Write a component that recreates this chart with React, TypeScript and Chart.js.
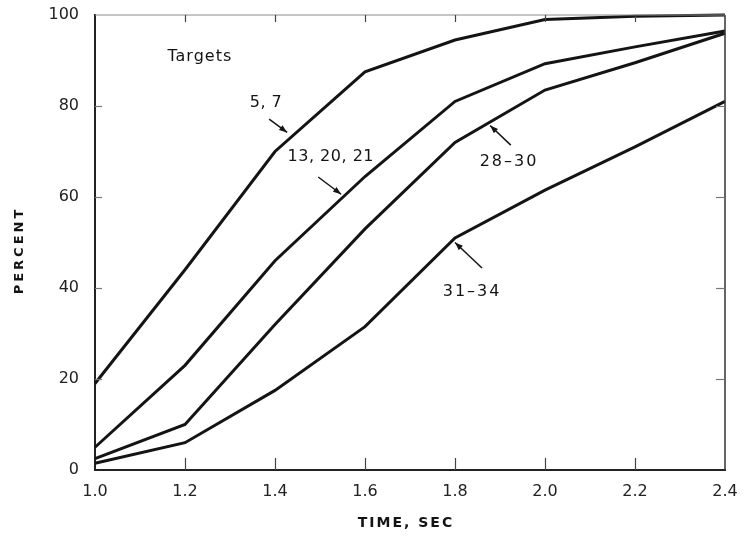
import React, { useEffect, useRef } from "react";
import { Chart, registerables } from "chart.js";

Chart.register(...registerables);

// ---- data ----
const timeSec = [1.0, 1.2, 1.4, 1.6, 1.8, 2.0, 2.2, 2.4];
const targets5_7 = [19, 44, 70, 87.5, 94.5, 99, 99.7, 100];
const targets13_20_21 = [5, 23, 46, 64.5, 81, 89.3, 93, 96.5];
const targets28_30 = [2.5, 10, 32, 53, 72, 83.5, 89.5, 96];
const targets31_34 = [1.5, 6, 17.5, 31.5, 51, 61.5, 71, 81];

const xTickValues = [1.0, 1.2, 1.4, 1.6, 1.8, 2.0, 2.2, 2.4];
const yTickValues = [0, 20, 40, 60, 80, 100];

const seriesNames = ["5, 7", "13, 20, 21", "28–30", "31–34"];
const headerText = "Targets";
const xTitle = "TIME, SEC";
const yTitle = "PERCENT";

// annotation anchors in data units: text centre, arrow tail, arrow head
const labelSpots = [
  { text: seriesNames[0], tx: 1.38, ty: 80.7, ax1: 1.387, ay1: 77.1, ax2: 1.427, ay2: 74.2 },
  { text: seriesNames[1], tx: 1.524, ty: 68.8, ax1: 1.496, ay1: 64.4, ax2: 1.547, ay2: 60.6 },
  { text: seriesNames[2], tx: 1.92, ty: 67.7, ax1: 1.924, ay1: 71.4, ax2: 1.878, ay2: 75.7 },
  { text: seriesNames[3], tx: 1.838, ty: 39.1, ax1: 1.86, ay1: 44.4, ax2: 1.8, ay2: 50.0 },
];
const headerSpot = { tx: 1.233, ty: 90.8 };

const INK = "#141414";
const FONT = "'DejaVu Sans', 'Liberation Sans', sans-serif";

const framePlugin = {
  id: "frameAndNotes",
  afterDraw(chart: any) {
    const { ctx, chartArea: a, scales } = chart;
    const x = scales.x;
    const y = scales.y;
    const line = (x1: number, y1: number, x2: number, y2: number) => {
      ctx.beginPath();
      ctx.moveTo(x1, y1);
      ctx.lineTo(x2, y2);
      ctx.stroke();
    };
    ctx.save();
    // frame
    ctx.strokeStyle = "#333";
    ctx.lineWidth = 1.5;
    line(a.right, a.top, a.right, a.bottom);
    ctx.strokeStyle = "#8a8a8a";
    ctx.lineWidth = 1;
    line(a.left, a.top, a.right, a.top);

    // inward ticks
    ctx.strokeStyle = "#444";
    ctx.lineWidth = 1.2;
    xTickValues.slice(1, -1).forEach((v) => {
      const px = Math.round(x.getPixelForValue(v)) + 0.5;
      line(px, a.bottom, px, a.bottom - 12);
      line(px, a.top, px, a.top + 7);
    });
    ctx.strokeStyle = "#777";
    yTickValues.slice(1, -1).forEach((v) => {
      const py = Math.round(y.getPixelForValue(v)) + 0.5;
      line(a.left, py, a.left + 7, py);
      line(a.right, py, a.right - 9, py);
    });

    // annotations
    ctx.fillStyle = INK;
    ctx.strokeStyle = INK;
    ctx.textAlign = "center";
    ctx.textBaseline = "middle";
    ctx.font = `16px ${FONT}`;
    (ctx as any).letterSpacing = "1px";
    ctx.fillText(headerText, x.getPixelForValue(headerSpot.tx), y.getPixelForValue(headerSpot.ty));
    labelSpots.forEach((s) => {
      (ctx as any).letterSpacing = s.text.includes("–") ? "2px" : "0.5px";
      ctx.fillText(s.text, x.getPixelForValue(s.tx), y.getPixelForValue(s.ty));
      const x1 = x.getPixelForValue(s.ax1);
      const y1 = y.getPixelForValue(s.ay1);
      const x2 = x.getPixelForValue(s.ax2);
      const y2 = y.getPixelForValue(s.ay2);
      ctx.lineWidth = 1.5;
      line(x1, y1, x2, y2);
      const ang = Math.atan2(y2 - y1, x2 - x1);
      const L = 8;
      const W = 3;
      ctx.beginPath();
      ctx.moveTo(x2, y2);
      ctx.lineTo(x2 - L * Math.cos(ang) + W * Math.sin(ang), y2 - L * Math.sin(ang) - W * Math.cos(ang));
      ctx.lineTo(x2 - L * Math.cos(ang) - W * Math.sin(ang), y2 - L * Math.sin(ang) + W * Math.cos(ang));
      ctx.closePath();
      ctx.fill();
    });

    // axis titles
    ctx.font = `bold 14px ${FONT}`;
    (ctx as any).letterSpacing = "2px";
    ctx.fillText(xTitle, (a.left + a.right) / 2 - 4, a.bottom + 53);
    ctx.save();
    ctx.translate(20, (a.top + a.bottom) / 2 + 8);
    ctx.rotate(-Math.PI / 2);
    ctx.font = `bold 13px ${FONT}`;
    (ctx as any).letterSpacing = "3px";
    ctx.fillText(yTitle, 0, 0);
    ctx.restore();
    (ctx as any).letterSpacing = "0px";
    ctx.restore();
  },
};

export default function App() {
  const ref = useRef<HTMLCanvasElement>(null);
  useEffect(() => {
    const mk = (data: number[], label: string) => ({
      label,
      data: timeSec.map((t, i) => ({ x: t, y: data[i] })),
      borderColor: INK,
      borderWidth: 3,
      pointRadius: 0,
      tension: 0,
      fill: false,
      clip: 4,
    });
    const chart = new Chart(ref.current!, {
      type: "line",
      data: {
        datasets: [
          mk(targets5_7, seriesNames[0]),
          mk(targets13_20_21, seriesNames[1]),
          mk(targets28_30, seriesNames[2]),
          mk(targets31_34, seriesNames[3]),
        ],
      },
      options: {
        animation: false,
        responsive: false,
        devicePixelRatio: 1,
        layout: { padding: { top: 15, right: 26, left: 0, bottom: 0 } },
        plugins: { legend: { display: false }, tooltip: { enabled: false } },
        scales: {
          x: {
            type: "linear",
            min: 1.0,
            max: 2.4,
            afterBuildTicks: (s: any) => {
              s.ticks = xTickValues.map((v) => ({ value: v }));
            },
            afterFit: (s: any) => {
              s.height = 68;
              s.paddingLeft = 0;
              s.paddingRight = 0;
            },
            grid: { drawOnChartArea: false, drawTicks: false },
            border: { display: true, color: "#222", width: 2 },
            ticks: {
              padding: 12,
              color: "#222",
              font: { family: FONT, size: 16 },
              maxRotation: 0,
              autoSkip: false,
              callback: (v: any) => Number(v).toFixed(1),
            },
          },
          y: {
            type: "linear",
            min: 0,
            max: 100,
            afterBuildTicks: (s: any) => {
              s.ticks = yTickValues.map((v) => ({ value: v }));
            },
            afterFit: (s: any) => {
              s.width = 95;
              s.paddingTop = 0;
              s.paddingBottom = 0;
            },
            grid: { drawOnChartArea: false, drawTicks: false },
            border: { display: true, color: "#222", width: 2 },
            ticks: {
              padding: 16,
              color: "#222",
              font: { family: FONT, size: 16 },
              autoSkip: false,
              callback: (v: any) => String(v),
            },
          },
        },
      },
      plugins: [framePlugin],
    } as any);
    return () => chart.destroy();
  }, []);
  return (
    <div style={{ position: "absolute", left: 0, top: 0, width: 751, height: 538, background: "#fff" }}>
      <canvas ref={ref} width={751} height={538} style={{ display: "block", width: 751, height: 538 }} />
    </div>
  );
}
